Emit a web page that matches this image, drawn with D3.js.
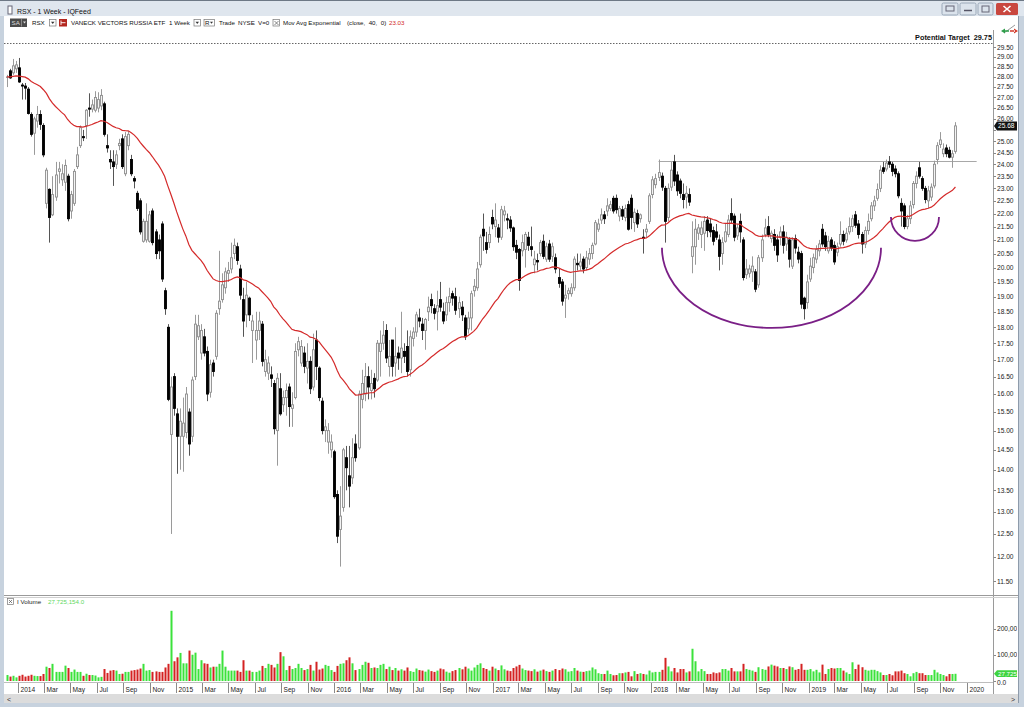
<!DOCTYPE html>
<html><head><meta charset="utf-8">
<script src="https://cdn.jsdelivr.net/npm/d3@7"></script>
<style>body{margin:0;background:#fff}svg{display:block}text{font-family:"Liberation Sans",Arial,sans-serif}</style>
</head><body><svg id="c" width="1024" height="707"></svg>
<script>
// ---------- DATA ----------
const startDate = "2013-12-06"; // first weekly bar, one bar per week
const open = [
28.0,28.3,28.2,28.4,28.45,27.6,27.55,27.4,26.2,25.35,
25.9,26.2,25.7,22.4,22.96,21.95,22.65,23.7,23.35,23.25,
23.5,22.1,22.4,23.9,24.8,25.2,25.7,26.5,26.45,26.4,
26.5,26.6,26.7,24.8,24.2,24.1,24.0,24.8,25.1,23.6,
24.8,24.2,23.4,22.8,22.5,20.95,21.0,20.95,22.1,21.3,
21.0,21.6,19.2,18.0,14.9,16.5,15.45,14.85,14.85,14.95,
15.5,14.85,16.5,17.7,17.2,17.7,17.25,16.05,16.9,17.1,
18.6,18.9,19.3,19.8,19.95,20.5,20.75,19.95,18.9,18.4,
18.95,17.9,17.6,17.9,18.1,16.65,16.6,16.55,16.3,15.0,
16.15,15.7,15.9,16.2,15.6,15.9,17.3,16.9,17.2,16.75,
16.95,16.2,17.6,16.75,15.8,15.0,14.7,14.5,14.45,13.4,
12.6,13.1,14.3,13.85,13.8,14.65,14.55,15.85,16.0,16.5,
16.1,16.45,16.4,17.25,17.5,17.9,16.8,17.6,16.9,17.2,
17.05,17.25,17.4,16.7,17.65,17.85,18.3,18.1,17.9,18.5,
18.9,18.6,18.5,18.9,18.5,18.4,18.8,19.1,19.0,18.6,
18.65,18.3,17.95,18.3,19.2,19.3,20.1,21.4,20.9,20.9,
21.85,21.5,21.45,21.1,21.95,21.8,21.75,21.45,20.8,20.65,
20.6,20.65,21.1,20.75,20.1,20.25,20.5,20.95,20.3,20.85,
20.4,20.35,19.65,19.5,18.95,19.1,19.1,19.3,20.15,20.05,
20.3,20.0,20.3,20.5,20.85,21.4,21.75,21.95,22.1,22.2,
22.6,22.6,21.9,22.15,21.85,22.35,22.6,21.65,22.0,21.8,
21.1,21.3,21.7,22.75,23.15,23.45,23.5,23.0,21.85,23.05,
24.1,23.55,23.3,22.75,22.65,22.75,20.4,20.75,21.25,21.2,
21.25,21.75,21.6,21.35,21.3,21.0,20.5,20.95,21.2,22.0,
21.9,21.15,21.7,21.0,19.75,19.8,19.85,19.85,19.4,20.35,
21.2,21.5,21.05,21.2,21.0,21.1,21.3,20.85,21.0,20.05,
21.05,20.55,20.5,18.95,18.8,19.6,20.0,20.3,20.6,21.4,
21.15,20.6,21.0,20.8,20.55,20.85,21.2,21.0,21.3,21.5,
21.95,21.6,21.2,20.85,21.35,21.8,22.3,22.6,23.0,23.85,
23.8,24.1,24.0,23.8,23.6,22.4,22.3,21.5,21.8,22.35,
23.2,23.85,23.4,23.0,22.5,22.65,23.1,24.2,24.85,24.45,
24.7,24.6,24.3,24.55];
const high = [
28.1,28.4,28.9,28.8,28.95,27.7,27.7,27.5,26.3,26.1,
26.6,26.4,25.8,23.85,23.0,23.5,24.1,24.1,24.0,24.2,
23.6,22.9,23.8,24.75,25.7,25.5,26.45,27.2,26.9,27.3,
27.25,27.4,26.8,25.3,24.6,24.6,24.6,25.1,25.3,25.4,
25.45,24.4,23.5,22.9,22.6,21.8,22.4,22.1,22.2,21.4,
21.2,21.7,19.3,18.1,16.5,16.6,15.6,15.6,15.9,16.2,
15.6,16.5,18.4,18.4,18.1,17.95,17.4,17.0,17.0,18.55,
20.6,19.8,20.0,20.2,20.9,21.05,20.9,20.1,19.3,19.5,
19.0,18.4,18.5,18.5,18.2,17.3,17.1,16.8,16.4,16.6,
16.6,16.1,16.3,16.3,16.05,17.5,17.7,17.6,17.4,17.5,
17.1,17.8,17.9,16.8,15.9,15.3,15.2,14.9,14.5,13.5,
13.6,14.55,14.6,14.6,14.8,14.9,16.1,16.7,16.9,16.8,
16.7,16.6,17.6,17.9,18.2,18.1,17.6,17.6,18.0,17.4,
18.5,17.5,17.9,17.9,18.0,18.5,18.6,18.3,18.3,19.0,
19.1,18.75,19.2,19.5,18.8,19.0,19.3,19.2,19.3,19.0,
18.85,18.4,18.5,19.2,19.6,20.2,21.2,22.0,21.3,21.5,
22.15,22.4,21.6,22.3,22.3,22.0,21.9,21.5,21.0,20.7,
21.2,21.3,21.3,21.5,20.6,20.5,21.0,21.2,20.9,21.0,
20.9,20.5,19.95,19.6,19.4,19.3,19.45,20.4,20.5,20.5,
20.4,20.6,20.7,20.9,21.75,21.8,22.2,22.1,22.6,22.5,
22.7,22.75,22.3,22.3,22.35,22.5,22.75,22.2,22.15,22.0,
21.4,21.6,22.8,23.5,23.6,24.2,23.65,23.1,23.2,24.1,
24.4,23.7,23.4,23.2,23.1,23.0,21.7,21.8,21.6,21.7,
21.9,21.9,21.8,21.5,21.6,21.2,21.1,21.6,21.95,22.6,
22.0,21.6,22.0,21.1,20.3,20.1,20.4,19.95,20.45,21.2,
21.8,21.9,21.35,21.4,21.2,21.5,21.55,21.3,21.1,21.1,
21.2,20.75,20.6,19.0,19.75,20.35,20.5,20.8,21.0,21.6,
21.3,21.15,21.1,20.95,20.9,21.7,21.35,21.45,21.85,21.95,
22.1,21.75,21.3,21.5,22.0,22.45,22.7,23.2,23.95,24.1,
24.2,24.35,24.1,23.95,23.7,22.6,22.4,21.95,22.5,23.3,
23.7,24.1,23.5,23.1,23.1,23.2,24.15,24.95,25.4,24.9,
24.85,24.75,24.6,25.85];
const low = [
27.5,27.9,28.1,28.2,27.7,26.9,26.9,26.2,25.2,24.4,
25.6,25.5,24.3,22.2,20.9,21.9,22.5,23.2,23.1,22.9,
21.7,21.8,22.3,23.8,24.7,25.0,25.1,26.1,26.3,26.3,
26.3,26.4,25.2,24.5,23.8,23.1,23.8,24.6,23.8,23.5,
24.6,23.5,23.0,22.1,21.2,20.9,20.9,20.9,20.8,20.3,
20.3,19.5,18.4,15.8,12.5,15.4,13.9,14.0,13.95,14.8,
14.35,14.7,16.4,17.6,17.0,17.1,15.8,15.9,16.5,17.0,
18.4,18.8,19.1,19.5,19.8,20.3,20.1,18.9,17.7,18.0,
18.2,16.9,17.0,17.6,16.8,16.5,16.4,16.2,14.9,14.1,
15.4,15.5,15.4,15.1,15.1,15.85,17.1,16.8,16.6,16.3,
16.0,16.1,16.4,15.8,14.9,14.7,14.4,14.3,13.3,12.3,
11.8,13.0,13.5,13.1,13.65,14.2,14.5,15.6,15.8,15.85,
15.85,15.9,16.35,16.5,17.3,16.9,16.5,16.5,16.5,16.7,
16.6,16.9,16.5,16.5,17.4,17.7,18.0,17.6,17.3,18.2,
18.45,18.25,17.9,18.5,18.1,18.2,18.5,18.7,18.4,18.3,
18.2,17.6,17.8,17.9,19.0,19.2,20.0,20.6,20.5,20.7,
21.4,21.1,20.9,21.0,21.7,21.4,21.3,20.6,20.3,19.2,
20.4,20.0,20.6,20.4,19.8,19.9,20.4,20.3,20.2,20.2,
20.2,19.8,19.3,18.7,18.3,18.9,19.0,19.2,19.9,19.9,
19.8,19.9,20.1,20.3,20.8,21.3,21.6,21.6,21.9,22.1,
22.0,22.0,21.7,21.75,21.7,21.35,21.4,21.3,21.45,21.65,
20.5,21.1,21.6,22.6,23.0,23.3,22.9,20.9,21.7,22.9,
23.1,22.7,22.6,22.2,22.2,22.3,19.8,20.1,21.0,20.7,
20.6,21.1,21.1,20.8,21.0,19.9,20.1,20.9,21.1,21.6,
20.95,21.0,20.9,19.55,19.6,19.65,19.5,19.15,19.3,20.2,
21.1,21.1,20.9,20.6,20.2,20.8,20.5,20.6,20.0,19.95,
20.5,20.15,18.6,18.25,18.6,19.5,19.8,20.15,20.4,20.75,
20.6,20.5,20.6,20.1,20.4,20.75,20.8,20.9,21.2,21.3,
21.45,21.05,20.5,20.7,21.2,21.7,22.1,22.5,22.85,23.6,
23.7,23.85,23.5,23.45,22.6,21.5,21.4,21.4,21.6,22.2,
23.0,23.4,22.9,22.4,22.2,22.5,23.0,24.0,24.7,24.3,
24.3,24.25,23.85,24.45];
const close = [
28.0,27.95,28.55,28.6,27.75,27.55,27.45,26.25,25.3,26.0,
26.2,25.75,24.4,23.75,21.85,22.75,23.55,23.8,23.6,23.95,
21.8,22.75,23.7,24.4,25.6,25.15,26.4,26.45,26.65,27.0,
26.9,27.1,25.3,24.7,24.1,23.9,24.4,24.9,23.9,25.2,
25.3,23.6,23.3,22.2,21.3,21.7,21.7,21.95,20.9,20.5,
20.6,19.6,18.6,15.85,16.2,15.6,14.85,15.25,15.2,16.0,
14.65,16.4,18.1,18.05,17.9,17.2,16.0,16.85,16.65,18.45,
18.85,19.4,19.85,19.9,20.35,20.8,20.25,19.05,18.2,19.05,
18.4,18.2,17.9,18.2,16.95,17.0,16.9,16.45,15.05,16.45,
15.45,15.9,16.1,15.65,15.7,17.25,17.55,17.4,16.8,16.95,
16.15,17.3,16.8,15.9,15.0,15.1,15.0,14.7,13.35,12.45,
12.9,14.5,14.05,13.6,14.3,14.3,16.0,16.3,16.5,16.2,
16.3,16.15,17.5,17.5,17.75,17.05,17.1,16.8,17.1,17.05,
17.35,17.1,16.65,17.7,17.85,18.4,18.2,17.9,18.25,18.65,
18.7,18.45,18.7,18.65,18.2,18.8,19.0,18.95,18.55,18.8,
18.4,17.7,18.3,19.1,19.35,19.95,21.1,21.15,20.65,21.2,
21.6,21.75,21.1,22.15,22.1,21.75,21.45,20.75,20.55,19.55,
20.9,21.2,20.8,20.65,20.3,20.2,20.9,20.4,20.75,20.3,
20.75,19.95,19.45,18.85,19.05,19.2,19.3,20.3,20.1,20.2,
19.95,20.35,20.5,20.8,21.65,21.6,21.95,21.8,22.3,22.35,
22.1,22.15,22.2,21.9,22.2,21.4,21.85,22.05,21.6,21.95,
21.05,21.4,22.7,23.35,23.4,23.65,23.05,21.7,23.0,23.75,
23.3,22.9,22.8,22.55,22.8,22.45,20.75,21.4,21.45,21.45,
21.7,21.35,21.3,20.95,21.1,20.4,20.9,21.3,21.75,21.75,
21.1,21.45,21.3,19.65,19.95,19.95,20.05,19.25,20.35,21.0,
21.45,21.2,21.25,20.8,20.45,21.3,20.8,21.1,20.3,21.0,
20.7,20.3,18.75,18.6,19.5,20.05,20.35,20.65,20.85,20.85,
20.75,20.95,20.7,20.2,20.75,21.2,20.95,21.25,21.5,21.8,
21.55,21.2,20.85,21.35,21.7,22.3,22.5,22.95,23.75,23.7,
24.05,24.0,23.7,23.6,22.7,22.1,21.5,21.8,22.3,23.2,
23.5,23.5,23.0,22.55,22.9,23.05,24.0,24.8,25.05,24.65,
24.45,24.3,24.45,25.68];
// weekly volume, millions of shares
const volume = [
23,17,20,14,20,24,17,20,24,20,
19,19,27,55,50,66,35,35,35,59,
50,35,44,35,35,20,28,23,23,21,
14,16,46,31,40,42,40,27,28,35,
35,40,42,44,48,66,40,42,35,37,
35,35,52,66,270,76,91,108,68,68,
117,101,109,46,80,68,66,52,55,55,
66,117,55,40,40,40,40,35,80,40,
40,35,35,40,58,50,66,62,52,66,
111,95,42,58,46,50,66,50,42,46,
62,40,74,44,48,62,58,42,35,58,
66,68,80,91,68,42,46,62,74,70,
50,52,50,62,66,46,55,42,50,40,
45,40,52,38,35,48,42,40,36,44,
38,35,40,48,45,36,32,38,42,50,
45,55,48,40,52,62,68,50,46,40,
55,48,42,60,45,40,38,50,56,62,
48,42,40,38,45,36,40,44,38,35,
40,46,42,48,45,36,38,50,40,36,
35,38,40,52,45,
30,27,27,40,27,22,23,30,30,33,
35,18,38,27,30,27,25,40,33,35,
35,43,89,56,37,50,33,46,46,33,
37,124,76,37,46,38,27,27,33,30,
33,46,46,40,50,37,37,37,66,46,
43,40,35,53,46,43,56,63,59,56,
50,50,46,56,53,43,46,66,43,43,
46,37,43,33,63,27,46,50,48,50,
50,40,33,27,72,46,63,53,43,40,
43,43,38,33,23,23,27,22,37,37,
40,30,27,18,30,35,30,30,23,23,
23,43,33,27,23,18,27,27,27.725154];
const priceTicks = [29.5,29,28.5,28,27.5,27,26.5,26,25.5,25,24.5,24,23.5,23,22.5,22,21.5,21,20.5,20,19.5,19,18.5,18,17.5,17,16.5,16,15.5,15,14.5,14,13.5,13,12.5,12,11.5];
const volumeTicks = [0,100,200];
const monthNames = ["Jan","Feb","Mar","Apr","May","Jun","Jul","Aug","Sep","Oct","Nov","Dec"];
const emaPeriod = 40;
const emaLegendValue = 23.03; // value shown in the study legend
const targetPrice = 29.75;
const resistance = {from:"2018-01-19", to:"2020-01-24", price:24.15};
const arcs = [
  {from:"2018-01-27", to:"2019-06-17", top:20.71, bottom:17.98},
  {from:"2019-07-10", to:"2019-10-29", top:21.87, bottom:20.96}
];

// ---------- SETUP ----------
const svg = d3.select("#c");
const parse = d3.utcParse("%Y-%m-%d");
const t0 = parse(startDate);
const bars = close.map((c,i)=>({d:d3.utcDay.offset(t0,7*i),o:open[i],h:high[i],l:low[i],c:c,v:volume[i]}));
let e = close[0]; const k = 2/(emaPeriod+1);
const ema = close.map((c,i)=>{ if(i>0) e = c*k + e*(1-k); return e; });

const x = d3.scaleUtc().domain([parse("2014-01-01"),parse("2020-01-01")]).range([18.3,966.7]);
const y = d3.scaleLog().domain([11.5,29.5]).range([581.2,47.3]);
const yv = d3.scaleLinear().domain([0,200]).range([681,629]);

// ---------- WINDOW CHROME ----------
svg.append("rect").attr("width",1024).attr("height",707).attr("fill","#c7d2de");
svg.append("rect").attr("x",0).attr("y",0).attr("width",1024).attr("height",16).attr("fill","#dfe6ee");
svg.append("line").attr("x1",0).attr("x2",1024).attr("y1",0.5).attr("y2",0.5).attr("stroke","#6d7885");
svg.append("rect").attr("x",4).attr("y",16).attr("width",1014).attr("height",678).attr("fill","#fff");
svg.append("rect").attr("x",8).attr("y",6).attr("width",4).attr("height",8).attr("fill","#fff").attr("stroke","#667");
svg.append("text").attr("x",17).attr("y",13.5).attr("font-size",7).attr("fill","#111").text("RSX - 1 Week - IQFeed");
[[942,16,"#dbe3ec"],[960,16,"#dbe3ec"],[978,15,"#dbe3ec"]].forEach(b=>{
  svg.append("rect").attr("x",b[0]).attr("y",3).attr("width",b[1]).attr("height",12).attr("rx",1.5).attr("fill",b[2]).attr("stroke","#9aa8b8");
});
svg.append("rect").attr("x",946).attr("y",6).attr("width",8).attr("height",5).attr("fill","none").attr("stroke","#667");
svg.append("line").attr("x1",964).attr("x2",972).attr("y1",10.5).attr("y2",10.5).attr("stroke","#556").attr("stroke-width",1.5);
svg.append("rect").attr("x",982).attr("y",6).attr("width",7).attr("height",6).attr("fill","none").attr("stroke","#667");
svg.append("rect").attr("x",996).attr("y",3).attr("width",22).attr("height",12).attr("rx",1.5).attr("fill","#c9473f");
svg.append("path").attr("d","M1003.5,6 L1010.5,12 M1010.5,6 L1003.5,12").attr("stroke","#fff").attr("stroke-width",1.6);

// toolbar
const tb = svg.append("g").attr("font-size",6.2).attr("fill","#111");
tb.append("rect").attr("x",10).attr("y",18.5).attr("width",17).attr("height",8.5).attr("fill","#4a4a4a");
tb.append("text").attr("x",11.5).attr("y",25).attr("fill","#ddd").text("SA");
tb.append("line").attr("x1",21.5).attr("x2",21.5).attr("y1",19).attr("y2",26.5).attr("stroke","#888");
tb.append("path").attr("d","M23,21.5 L26,21.5 L24.5,23.5 Z").attr("fill","#ddd");
tb.append("text").attr("x",32).attr("y",25).text("RSX");
function dd(x0){ tb.append("rect").attr("x",x0).attr("y",19.5).attr("width",6.5).attr("height",6.5).attr("fill","#fff").attr("stroke","#777").attr("stroke-width",0.7);
  tb.append("path").attr("d",`M${x0+1.5},21.7 L${x0+5},21.7 L${x0+3.25},24 Z`).attr("fill","#333"); }
dd(49.5);
tb.append("rect").attr("x",59).attr("y",19).attr("width",8).attr("height",7.5).attr("fill","#b3261e");
tb.append("path").attr("d","M61,20.5 L61,25 M61,22.7 L65.5,22.7").attr("stroke","#fff").attr("stroke-width",0.9);
tb.append("text").attr("x",71).attr("y",25).text("VANECK VECTORS RUSSIA ETF");
tb.append("text").attr("x",169).attr("y",25).text("1 Week");
dd(194);
tb.append("rect").attr("x",204).attr("y",19.5).attr("width",10.5).attr("height",6.5).attr("fill","#fff").attr("stroke","#777").attr("stroke-width",0.7);
tb.append("text").attr("x",205).attr("y",25).text("R");
tb.append("path").attr("d","M210,21.7 L213,21.7 L211.5,23.8 Z").attr("fill","#333");
tb.append("text").attr("x",219).attr("y",25).text("Trade");
tb.append("text").attr("x",238).attr("y",25).text("NYSE");
tb.append("text").attr("x",258).attr("y",25).text("V=0");
tb.append("rect").attr("x",273).attr("y",19.5).attr("width",6.5).attr("height",6.5).attr("fill","#fff").attr("stroke","#777").attr("stroke-width",0.7);
tb.append("path").attr("d","M274.5,21 L278.5,25 M278.5,21 L274.5,25").attr("stroke","#555").attr("stroke-width",0.7);
tb.append("text").attr("x",283).attr("y",25).text("Mov Avg Exponential");
tb.append("text").attr("x",347).attr("y",25).attr("xml:space","preserve").text("(close,  40,  0)");
tb.append("text").attr("x",389).attr("y",25).attr("fill","#d21f1f").text(d3.format(".2f")(emaLegendValue));

// ---------- PRICE PANEL ----------
svg.append("clipPath").attr("id","pclip").append("rect").attr("x",4).attr("y",30).attr("width",989).attr("height",565);
const pg = svg.append("g").attr("clip-path","url(#pclip)");
pg.append("line").attr("x1",4).attr("x2",993).attr("y1",Math.round(y(targetPrice))+0.5).attr("y2",Math.round(y(targetPrice))+0.5)
  .attr("stroke","#666").attr("stroke-dasharray","1.5,1.5");
svg.append("text").attr("x",992).attr("y",y(targetPrice)-3).attr("text-anchor","end").attr("font-size",7.3).attr("font-weight","bold")
  .attr("fill","#111").attr("xml:space","preserve").text("Potential Target  "+d3.format(".2f")(targetPrice));
pg.append("line").attr("x1",x(parse(resistance.from))).attr("x2",x(parse(resistance.to)))
  .attr("y1",Math.round(y(resistance.price))+0.5).attr("y2",Math.round(y(resistance.price))+0.5).attr("stroke","#a8a8a8").attr("stroke-width",1);
const cg = pg.selectAll("g.cd").data(bars).join("g");
cg.append("line").attr("x1",d=>Math.round(x(d.d))+0.5).attr("x2",d=>Math.round(x(d.d))+0.5)
  .attr("y1",d=>y(d.h)).attr("y2",d=>y(d.l)).attr("stroke",d=>d.c>=d.o?"#9a9a9a":"#555").attr("stroke-width",1);
cg.append("rect").attr("x",d=>Math.round(x(d.d))-0.5).attr("width",2)
  .attr("y",d=>y(Math.max(d.o,d.c))).attr("height",d=>Math.max(0.6,Math.abs(y(d.o)-y(d.c))))
  .attr("fill",d=>d.c>=d.o?"#f4f4f4":"#000").attr("stroke",d=>d.c>=d.o?"#8e8e8e":"#000").attr("stroke-width",0.9);
pg.append("path").datum(bars).attr("fill","none").attr("stroke","#d42a2a").attr("stroke-width",1.2)
  .attr("d",d3.line().x(d=>x(d.d)).y((d,i)=>y(ema[i])));
arcs.forEach(a=>{
  const x1=x(parse(a.from)), x2=x(parse(a.to)), cy=y(a.top), rx=(x2-x1)/2, ry=y(a.bottom)-cy;
  pg.append("path").attr("d",`M${x1},${cy} A${rx},${ry} 0 0 0 ${x2},${cy}`).attr("fill","none")
    .attr("stroke","#7a1f86").attr("stroke-width",1.8);
});

// price axis
svg.append("line").attr("x1",993.5).attr("x2",993.5).attr("y1",30).attr("y2",694).attr("stroke","#9a9a9a");
const pa = svg.append("g").attr("font-size",6.6).attr("fill","#222");
const lp = close[close.length-1], ly = y(lp);
priceTicks.forEach(p=>{
  pa.append("line").attr("x1",993.5).attr("x2",996).attr("y1",Math.round(y(p))+0.5).attr("y2",Math.round(y(p))+0.5).attr("stroke","#888");
  if (Math.abs(y(p)-ly) > 7) pa.append("text").attr("x",997).attr("y",y(p)+2.4).text(d3.format(".2f")(p));
});
svg.append("path").attr("d",`M994,${ly} L997,${ly-4.5} L1017,${ly-4.5} L1017,${ly+4.5} L997,${ly+4.5} Z`).attr("fill","#111");
svg.append("text").attr("x",998).attr("y",ly+2.4).attr("font-size",6.6).attr("fill","#fff").text(d3.format(".2f")(lp));
svg.append("line").attr("x1",1004).attr("x2",1015).attr("y1",33).attr("y2",25).attr("stroke","#9a9a9a");
svg.append("path").attr("d","M1001,31 L1005,28.5 L1005,33.5 Z M1004,30.3 L1009,30.3 L1009,31.7 L1004,31.7 Z").attr("fill","#2e9e4a");
svg.append("path").attr("d","M1018,31 L1014,28.5 L1014,33.5 Z M1010,30.3 L1015,30.3 L1015,31.7 L1010,31.7 Z").attr("fill","#d43a2a");

// ---------- VOLUME PANEL ----------
svg.append("line").attr("x1",4).attr("x2",1018).attr("y1",595.5).attr("y2",595.5).attr("stroke","#9a9a9a");
svg.append("line").attr("x1",4).attr("x2",1018).attr("y1",597.5).attr("y2",597.5).attr("stroke","#d0d0d0");
svg.append("rect").attr("x",7.5).attr("y",598.5).attr("width",6).attr("height",6).attr("fill","#fff").attr("stroke","#777").attr("stroke-width",0.7);
svg.append("path").attr("d","M9,600 L12,603 M12,600 L9,603").attr("stroke","#555").attr("stroke-width",0.7);
svg.append("text").attr("x",17).attr("y",604).attr("font-size",6.2).attr("fill","#222").text("I Volume");
svg.append("text").attr("x",48).attr("y",604).attr("font-size",6.2).attr("fill","#5fd85f").text(d3.format(",.1f")(Math.round(volume[volume.length-1]*1e6)));
const vg = svg.append("g");
vg.selectAll("rect").data(bars).join("rect").attr("x",d=>Math.round(x(d.d))-0.5).attr("width",2)
  .attr("y",d=>yv(d.v)).attr("height",d=>yv(0)-yv(d.v)).attr("fill",d=>d.c>=d.o?"#3be23b":"#d42222");
svg.append("line").attr("x1",4).attr("x2",993).attr("y1",682.5).attr("y2",682.5).attr("stroke","#bdbdbd");
svg.append("clipPath").attr("id","vaclip").append("rect").attr("x",994).attr("y",598).attr("width",23).attr("height",96);
const va = svg.append("g").attr("clip-path","url(#vaclip)").attr("font-size",6.6).attr("fill","#222");
volumeTicks.forEach(v=>{
  va.append("line").attr("x1",993.5).attr("x2",996).attr("y1",Math.round(yv(v))+0.5).attr("y2",Math.round(yv(v))+0.5).attr("stroke","#888");
  va.append("text").attr("x",997).attr("y",yv(v)+(v===0?4.2:2.4)).text(v===0?"0.0":d3.format(",")(v*1000));
});
const lv = volume[volume.length-1], lvy = yv(lv);
va.append("path").attr("d",`M994,${lvy} L997,${lvy-3.6} L1018,${lvy-3.6} L1018,${lvy+3.2} L997,${lvy+3.2} Z`).attr("fill","#3fd43f");
va.append("text").attr("x",998).attr("y",lvy+2.2).attr("fill","#fff").attr("font-size",6.2).text(d3.format(",.0f")(lv*1000));

// ---------- X AXIS ----------
const xa = svg.append("g").attr("font-size",6.6).attr("fill","#222");
d3.utcMonth.every(2).range(parse("2014-01-01"),parse("2020-01-02")).forEach(m=>{
  const xx = Math.round(x(m))+0.5;
  xa.append("line").attr("x1",xx).attr("x2",xx).attr("y1",683).attr("y2",693).attr("stroke","#8a8a8a");
  xa.append("text").attr("x",xx+2).attr("y",691.5).text(m.getUTCMonth()===0?m.getUTCFullYear():monthNames[m.getUTCMonth()]);
});

// ---------- BOTTOM SCROLLBAR / FRAME ----------
svg.append("rect").attr("x",4).attr("y",694).attr("width",1014).attr("height",9).attr("fill","#dcdcdc");
svg.append("text").attr("x",7).attr("y",701.5).attr("font-size",7).attr("fill","#333").text("<");
svg.append("text").attr("x",1011).attr("y",701.5).attr("font-size",7).attr("fill","#333").text(">");
svg.append("rect").attr("x",1018).attr("y",16).attr("width",6).attr("height",691).attr("fill","#c7d2de");
svg.append("line").attr("x1",1018.5).attr("x2",1018.5).attr("y1",16).attr("y2",703).attr("stroke","#8e9bab");
</script></body></html>
